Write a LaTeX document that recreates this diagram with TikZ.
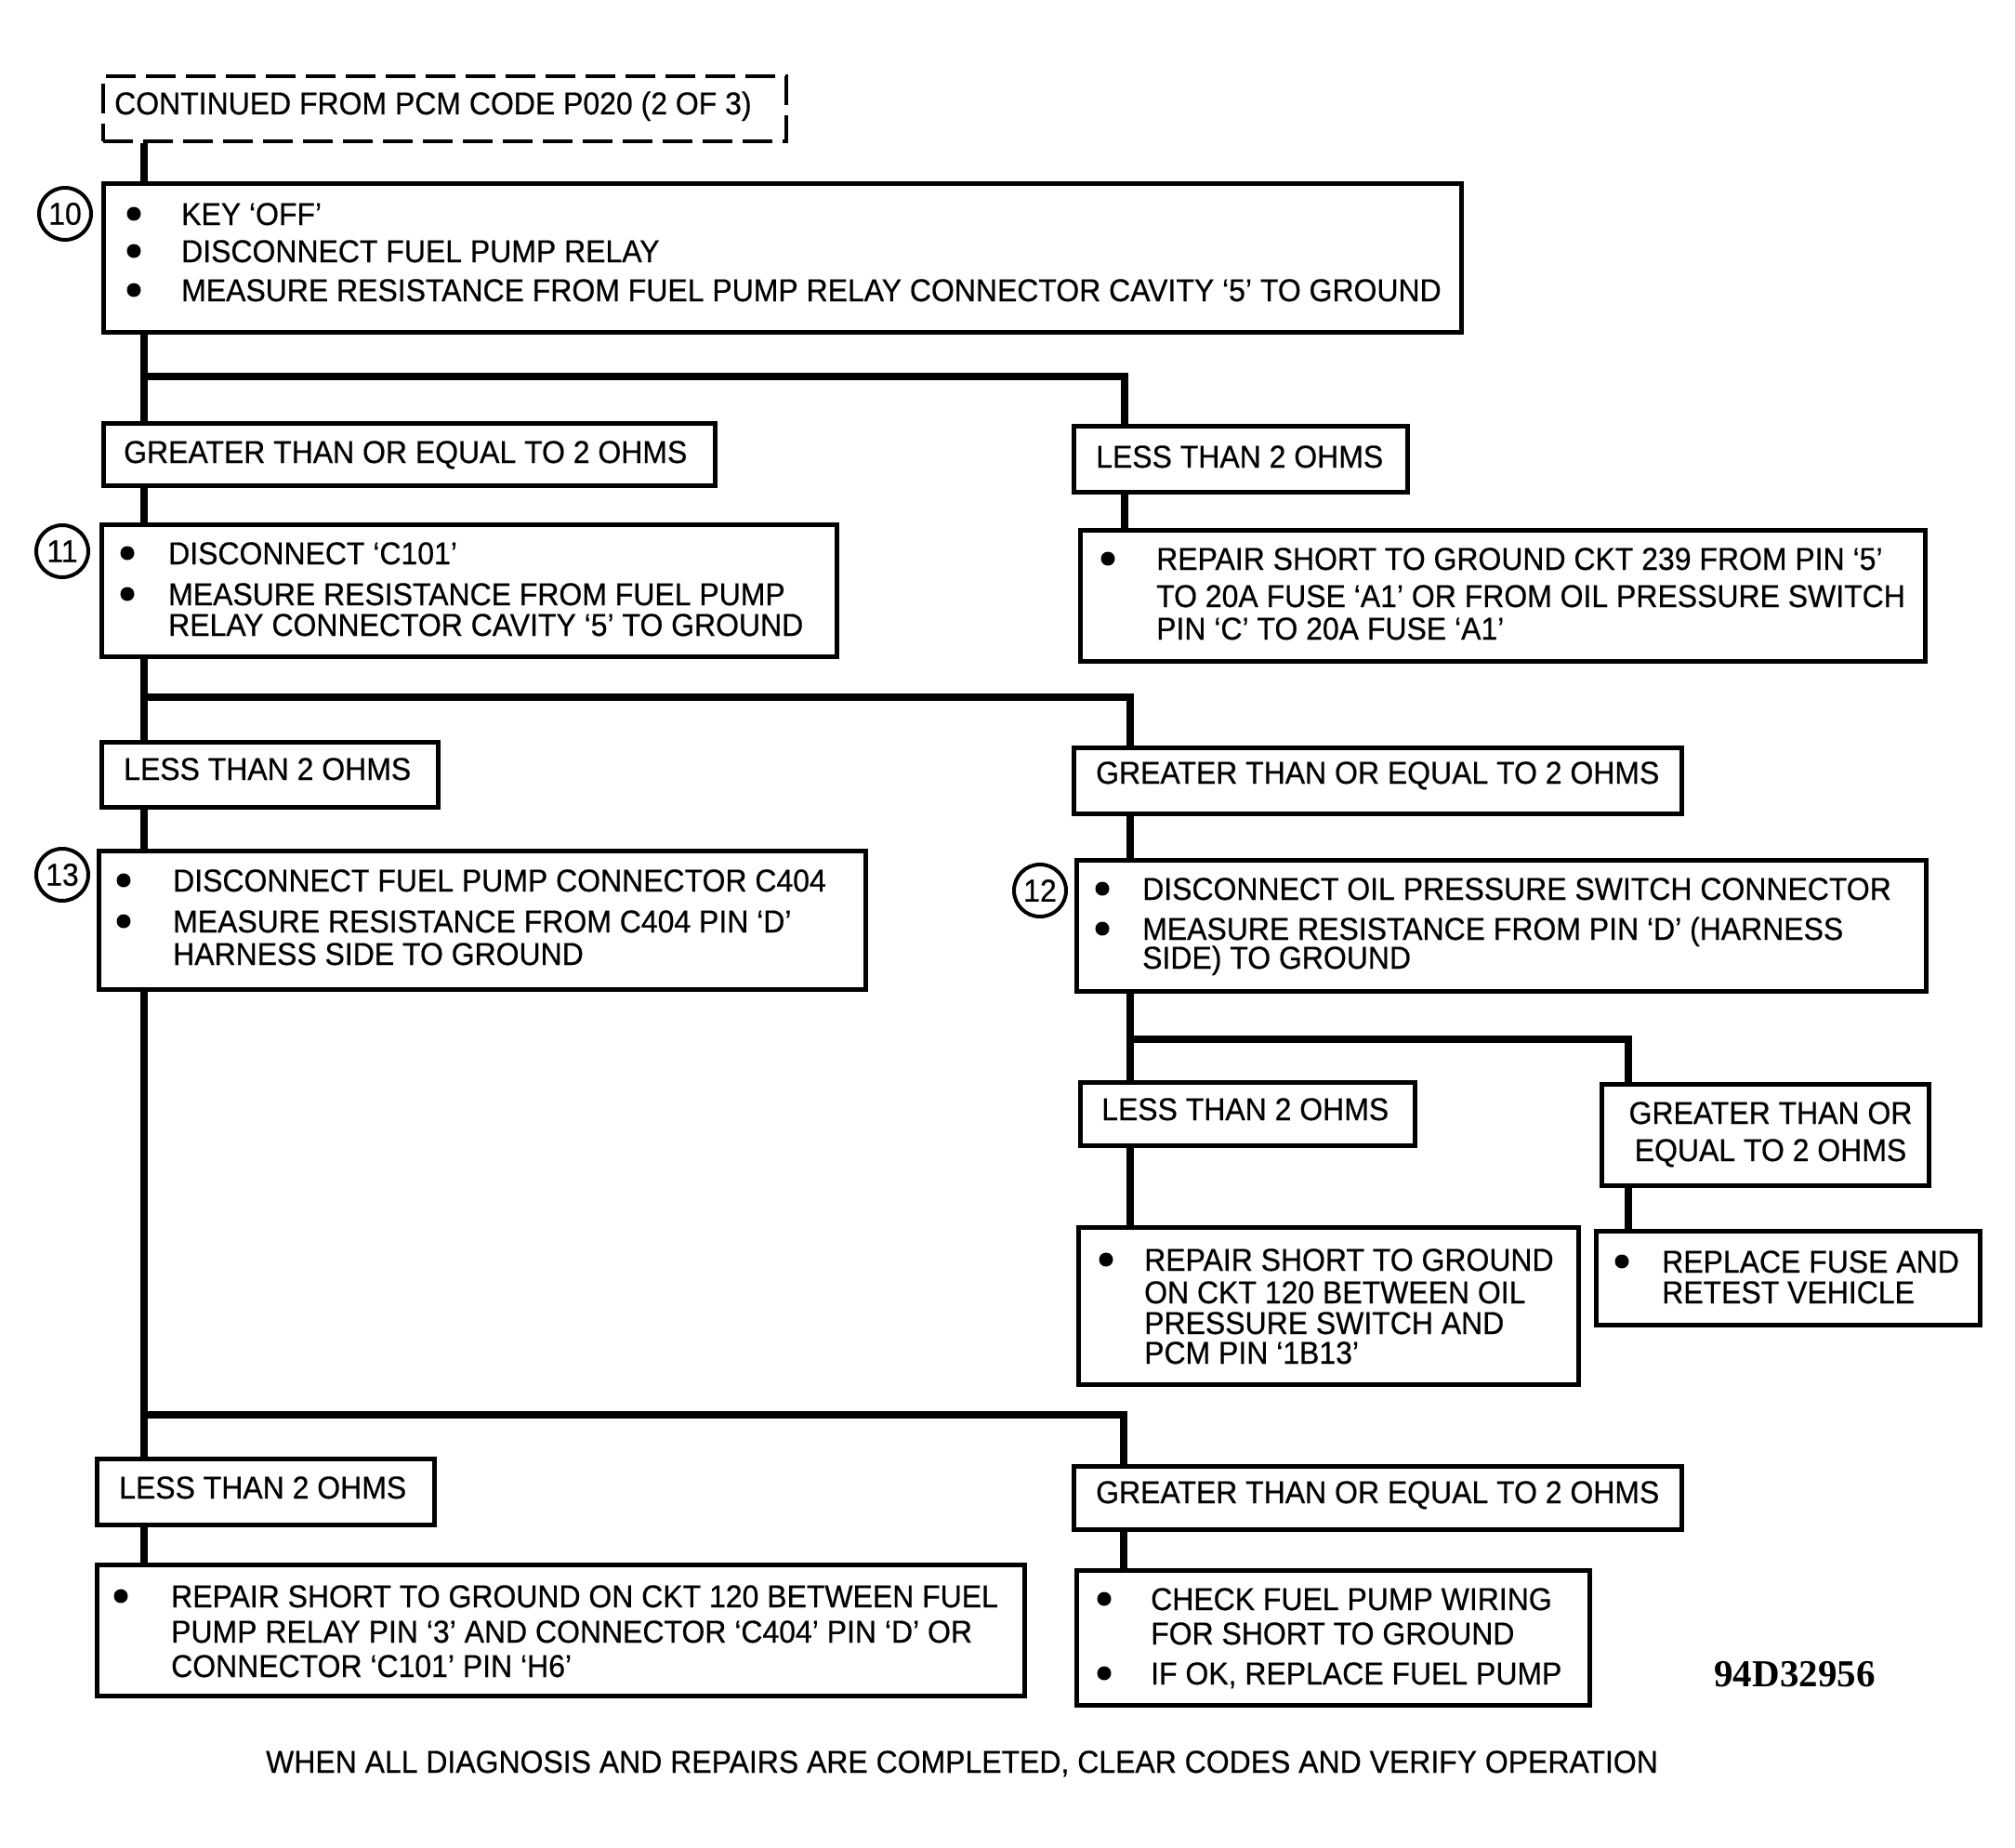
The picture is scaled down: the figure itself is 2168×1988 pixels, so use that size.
\documentclass[tikz,border=0pt]{standalone}
\usepackage{fontspec}
\newfontfamily\mainfnt{Liberation Sans}[Ligatures=TeX, FakeStretch=0.94, FakeBold=0.5]
\newfontfamily\idfnt{Liberation Serif}
\newcommand\diagfont{\mainfnt\fontsize{34}{40}\selectfont}
\tikzset{
  box/.style={draw, line width=5pt, rectangle, inner sep=0pt, anchor=north west},
  dbox/.style={draw, line width=4pt, dash pattern=on 32pt off 11pt, rectangle, inner sep=0pt, anchor=north west},
  wire/.style={line width=8pt},
  txt/.style={inner sep=0pt, anchor=base west, font=\diagfont},
  ctxt/.style={inner sep=0pt, anchor=base, font=\diagfont},
  dot/.style={circle, fill, inner sep=0pt, minimum size=15pt},
  num/.style={circle, draw, line width=4pt, minimum size=56pt, inner sep=0pt, font=\diagfont}
}
\begin{document}
\begin{tikzpicture}[x=1pt,y=-1pt]
\useasboundingbox (0,0) rectangle (2168,1988);
% boxes
\node[dbox, minimum width=735pt, minimum height=70pt] (dash) at (109,80) {};
\node[box, minimum width=1461pt, minimum height=160pt] (b10) at (109,195) {};
\node[box, minimum width=658pt, minimum height=67pt] (ge1) at (109,453) {};
\node[box, minimum width=359pt, minimum height=71pt] (lt1) at (1153,456) {};
\node[box, minimum width=909pt, minimum height=141pt] (r239) at (1160,568) {};
\node[box, minimum width=791pt, minimum height=142pt] (b11) at (107,562) {};
\node[box, minimum width=362pt, minimum height=70pt] (lt2) at (107,796) {};
\node[box, minimum width=654pt, minimum height=71pt] (ge2) at (1153,802) {};
\node[box, minimum width=914pt, minimum height=141pt] (b12) at (1156,923) {};
\node[box, minimum width=825pt, minimum height=149pt] (b13) at (104,913) {};
\node[box, minimum width=360pt, minimum height=68pt] (lt3) at (1160,1162) {};
\node[box, minimum width=352pt, minimum height=109pt] (ge3) at (1721,1164) {};
\node[box, minimum width=538pt, minimum height=169pt] (r120o) at (1158,1318) {};
\node[box, minimum width=413pt, minimum height=101pt] (rf) at (1715,1322) {};
\node[box, minimum width=363pt, minimum height=71pt] (lt4) at (102,1567) {};
\node[box, minimum width=654pt, minimum height=68pt] (ge4) at (1153,1575) {};
\node[box, minimum width=998pt, minimum height=141pt] (r120f) at (102,1681) {};
\node[box, minimum width=552pt, minimum height=145pt] (chk) at (1156,1687) {};
% connector coordinates
\coordinate (tx) at (155,0);
\coordinate (rx1) at (1210,0);
\coordinate (rx2) at (1216,0);
\coordinate (rx3) at (1752,0);
\coordinate (rx4) at (1209,0);
\coordinate (j1) at (155,405);
\coordinate (j2) at (155,750);
\coordinate (j3) at (1216,1118);
\coordinate (j4) at (155,1522);
% connectors
\draw[wire] (dash.south -| tx) -- (b10.north -| tx);
\draw[wire] (b10.south -| tx) -- (ge1.north -| tx);
\draw[wire] (j1) -| (lt1.north -| rx1);
\draw[wire] (lt1.south -| rx1) -- (r239.north -| rx1);
\draw[wire] (ge1.south -| tx) -- (b11.north -| tx);
\draw[wire] (b11.south -| tx) -- (lt2.north -| tx);
\draw[wire] (j2) -| (ge2.north -| rx2);
\draw[wire] (ge2.south -| rx2) -- (b12.north -| rx2);
\draw[wire] (lt2.south -| tx) -- (b13.north -| tx);
\draw[wire] (b13.south -| tx) -- (lt4.north -| tx);
\draw[wire] (j4) -| (ge4.north -| rx4);
\draw[wire] (lt4.south -| tx) -- (r120f.north -| tx);
\draw[wire] (ge4.south -| rx4) -- (chk.north -| rx4);
\draw[wire] (b12.south -| rx2) -- (lt3.north -| rx2);
\draw[wire] (j3) -| (ge3.north -| rx3);
\draw[wire] (lt3.south -| rx2) -- (r120o.north -| rx2);
\draw[wire] (ge3.south -| rx3) -- (rf.north -| rx3);
% step numbers
\node[num] (c10) at (70,230) {10};
\node[num] (c11) at (67,593) {11};
\node[num] (c13) at (67,941) {13};
\node[num] (c12) at (1119,958) {12};
% texts
\node[txt] (tdash) at (123,123) {CONTINUED FROM PCM CODE P020 (2 OF 3)};
\node[dot] (d10a) at (144,230) {};
\node[dot] (d10b) at (144,270) {};
\node[dot] (d10c) at (144,312) {};
\node[txt] (t10a) at (195,242) {KEY `OFF'};
\node[txt] (t10b) at (195,282) {DISCONNECT FUEL PUMP RELAY};
\node[txt] (t10c) at (195,324) {MEASURE RESISTANCE FROM FUEL PUMP RELAY CONNECTOR CAVITY `5' TO GROUND};
\node[txt] (tge1) at (133,498) {GREATER THAN OR EQUAL TO 2 OHMS};
\node[txt] (tlt1) at (1179,503) {LESS THAN 2 OHMS};
\node[dot] (d239) at (1192,601) {};
\node[txt] (t239a) at (1244,613) {REPAIR SHORT TO GROUND CKT 239 FROM PIN `5'};
\node[txt] (t239b) at (1244,653) {TO 20A FUSE `A1' OR FROM OIL PRESSURE SWITCH};
\node[txt] (t239c) at (1244,688) {PIN `C' TO 20A FUSE `A1'};
\node[dot] (d11a) at (137,595) {};
\node[dot] (d11b) at (137,639) {};
\node[txt] (t11a) at (181,607) {DISCONNECT `C101'};
\node[txt] (t11b) at (181,651) {MEASURE RESISTANCE FROM FUEL PUMP};
\node[txt] (t11c) at (181,684) {RELAY CONNECTOR CAVITY `5' TO GROUND};
\node[txt] (tlt2) at (133,839) {LESS THAN 2 OHMS};
\node[txt] (tge2) at (1179,843) {GREATER THAN OR EQUAL TO 2 OHMS};
\node[dot] (d13a) at (133,947) {};
\node[dot] (d13b) at (133,991) {};
\node[txt] (t13a) at (186,959) {DISCONNECT FUEL PUMP CONNECTOR C404};
\node[txt] (t13b) at (186,1003) {MEASURE RESISTANCE FROM C404 PIN `D'};
\node[txt] (t13c) at (186,1038) {HARNESS SIDE TO GROUND};
\node[dot] (d12a) at (1186,956) {};
\node[dot] (d12b) at (1186,999) {};
\node[txt] (t12a) at (1229,968) {DISCONNECT OIL PRESSURE SWITCH CONNECTOR};
\node[txt] (t12b) at (1229,1011) {MEASURE RESISTANCE FROM PIN `D' (HARNESS};
\node[txt] (t12c) at (1229,1042) {SIDE) TO GROUND};
\node[txt] (tlt3) at (1185,1205) {LESS THAN 2 OHMS};
\node[ctxt] (tge3a) at (1905,1209) {GREATER THAN OR};
\node[ctxt] (tge3b) at (1905,1249) {EQUAL TO 2 OHMS};
\node[dot] (do) at (1190,1355) {};
\node[txt] (toa) at (1231,1367) {REPAIR SHORT TO GROUND};
\node[txt] (tob) at (1231,1402) {ON CKT 120 BETWEEN OIL};
\node[txt] (toc) at (1231,1435) {PRESSURE SWITCH AND};
\node[txt] (tod) at (1231,1467) {PCM PIN `1B13'};
\node[dot] (drf) at (1745,1357) {};
\node[txt] (trfa) at (1788,1369) {REPLACE FUSE AND};
\node[txt] (trfb) at (1788,1402) {RETEST VEHICLE};
\node[txt] (tlt4) at (128,1612) {LESS THAN 2 OHMS};
\node[txt] (tge4) at (1179,1617) {GREATER THAN OR EQUAL TO 2 OHMS};
\node[dot] (df) at (130,1717) {};
\node[txt] (tfa) at (184,1729) {REPAIR SHORT TO GROUND ON CKT 120 BETWEEN FUEL};
\node[txt] (tfb) at (184,1767) {PUMP RELAY PIN `3' AND CONNECTOR `C404' PIN `D' OR};
\node[txt] (tfc) at (184,1804) {CONNECTOR `C101' PIN `H6'};
\node[dot] (dca) at (1188,1720) {};
\node[dot] (dcb) at (1188,1800) {};
\node[txt] (tca) at (1238,1732) {CHECK FUEL PUMP WIRING};
\node[txt] (tcb) at (1238,1769) {FOR SHORT TO GROUND};
\node[txt] (tcc) at (1238,1812) {IF OK, REPLACE FUEL PUMP};
\node[inner sep=0pt, anchor=base, font=\idfnt\bfseries\fontsize{41}{45}\selectfont] (tid) at (1931,1814) {94D32956};
\node[ctxt] (tfoot) at (1035,1907) {WHEN ALL DIAGNOSIS AND REPAIRS ARE COMPLETED, CLEAR CODES AND VERIFY OPERATION};
\end{tikzpicture}
\end{document}
